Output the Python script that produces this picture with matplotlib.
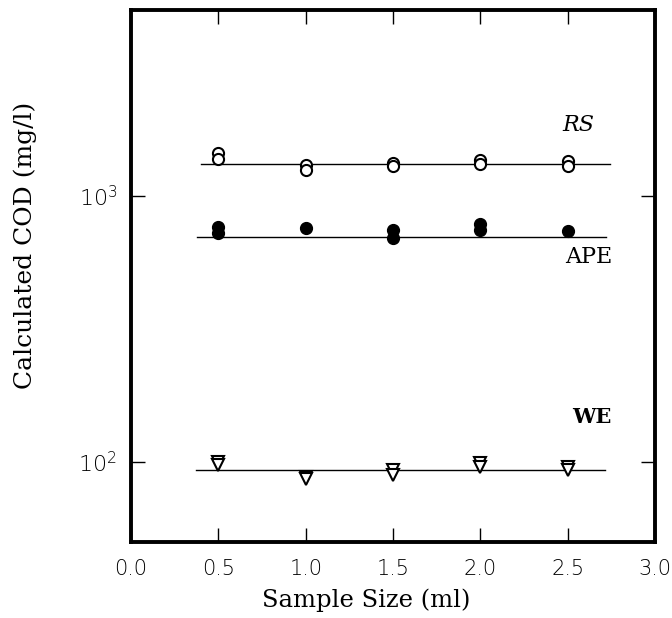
import matplotlib
matplotlib.use('Agg')
import matplotlib.pyplot as plt
from matplotlib.ticker import LogLocator, NullLocator

# sample sizes (ml), two replicates per size
sizes = [0.5, 0.5, 1.0, 1.0, 1.5, 1.5, 2.0, 2.0, 2.5, 2.5]
rs_cod = [1447, 1374, 1305, 1250, 1328, 1294, 1362, 1316, 1350, 1294]
ape_sizes = [0.5, 0.5, 1.0, 1.5, 1.5, 2.0, 2.0, 2.5]
ape_cod = [766, 728, 760, 741, 697, 785, 741, 735]
we_cod = [100, 97.5, 88, 86, 93, 89.5, 99, 96, 96, 93]

# mean lines
rs_line_x = [0.40, 2.74]
rs_mean = 1316
ape_line_x = [0.38, 2.72]
ape_mean = 703
we_line_x = [0.37, 2.71]
we_mean = 93.4

fig = plt.figure(figsize=(6.72, 6.18), dpi=100)
ax = fig.add_axes([0.195, 0.123, 0.78, 0.861])

ax.plot(rs_line_x, [rs_mean, rs_mean], color='black', lw=1.0)
ax.plot(ape_line_x, [ape_mean, ape_mean], color='black', lw=1.0)
ax.plot(we_line_x, [we_mean, we_mean], color='black', lw=1.0)

ax.plot(sizes, rs_cod, 'o', mfc='white', mec='black', mew=1.5, ms=8, ls='none')
ax.plot(ape_sizes, ape_cod, 'o', mfc='black', mec='black', ms=8.5, ls='none')
ax.plot(sizes, we_cod, 'v', mfc='white', mec='black', mew=1.5, ms=8.5, ls='none')

ax.set_yscale('log')
ax.set_ylim(50, 5000)
ax.set_xlim(0, 3.0)
ax.set_xticks([0.0, 0.5, 1.0, 1.5, 2.0, 2.5, 3.0])
ax.yaxis.set_major_locator(LogLocator(base=10, numticks=5))
ax.yaxis.set_minor_locator(NullLocator())

ax.tick_params(axis='both', direction='in', top=True, right=True,
               length=10, width=1.0, labelsize=15, pad=12)
ax.tick_params(axis='y', labelsize=16, pad=10)
for lab in ax.get_xticklabels() + ax.get_yticklabels():
    lab.set_fontweight('light')
    lab.set_color('black')
for s in ax.spines.values():
    s.set_linewidth(2.8)

serif = ['DejaVu Serif']
ax.set_xlabel('Sample Size (ml)', fontsize=17.5, family=serif)
ax.set_ylabel('Calculated COD (mg/l)', fontsize=18, family=serif)
ax.xaxis.set_label_coords(0.448, -0.088)
ax.yaxis.set_label_coords(-0.18, 0.558)

ax.text(2.56, 1750, 'RS', fontsize=16, style='italic', family=serif, ha='center')
ax.text(2.62, 560, 'APE', fontsize=16, family=serif, ha='center')
ax.text(2.64, 140, 'WE', fontsize=15, weight='bold', family=serif, ha='center')

fig.savefig('out.png', dpi=100)
